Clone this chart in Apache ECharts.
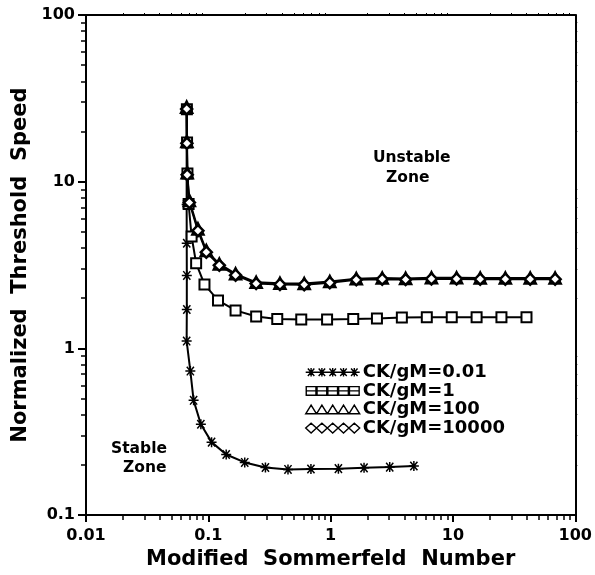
<!DOCTYPE html>
<html>
<head>
<meta charset="utf-8">
<script src="https://cdn.jsdelivr.net/npm/echarts@6/dist/echarts.min.js"></script>
<style>html,body{margin:0;padding:0;background:#fff}#c{width:595px;height:575px}</style>
</head>
<body>
<div id="c"></div>
<script>
// ---- data ----
const xTickValues = [0.01, 0.1, 1, 10, 100];
const xTickLabels = ['0.01', '0.1', '1', '10', '100'];
const yTickValues = [0.1, 1, 10, 100];
const yTickLabels = ['0.1', '1', '10', '100'];
const seriesNames = ['CK/gM=0.01', 'CK/gM=1', 'CK/gM=100', 'CK/gM=10000'];

const starX = [0.0665, 0.0665, 0.0665, 0.0665, 0.0666, 0.0667, 0.0667, 0.0665, 0.0713, 0.0758, 0.0869, 0.1063, 0.140, 0.1985, 0.293, 0.448, 0.690, 1.157, 1.875, 3.04, 4.79];
const starY = [27.5, 17.3, 11.2, 7.3, 4.27, 2.74, 1.71, 1.106, 0.731, 0.488, 0.351, 0.274, 0.231, 0.207, 0.193, 0.188, 0.189, 0.190, 0.192, 0.194, 0.197];

const sqX = [0.0668, 0.0670, 0.0675, 0.069, 0.073, 0.0795, 0.093, 0.12, 0.167, 0.246, 0.366, 0.575, 0.935, 1.53, 2.39, 3.82, 6.11, 9.77, 15.6, 24.9, 39.9];
const sqY = [27.2, 17.2, 11.2, 7.35, 4.69, 3.24, 2.42, 1.94, 1.69, 1.555, 1.50, 1.49, 1.49, 1.50, 1.51, 1.53, 1.54, 1.54, 1.54, 1.54, 1.54];

const triX = [0.0665, 0.0668, 0.0672, 0.070, 0.0822, 0.0963, 0.123, 0.167, 0.246, 0.385, 0.608, 0.984, 1.62, 2.64, 4.10, 6.67, 10.7, 16.7, 26.8, 42.8, 68.4];
const triY = [28, 17.4, 11.3, 7.7, 5.21, 3.86, 3.21, 2.80, 2.49, 2.46, 2.45, 2.52, 2.62, 2.64, 2.63, 2.65, 2.65, 2.64, 2.64, 2.64, 2.64];

const diaX = [0.0665, 0.0668, 0.0672, 0.070, 0.0822, 0.0963, 0.123, 0.167, 0.246, 0.385, 0.608, 0.984, 1.62, 2.64, 4.10, 6.67, 10.7, 16.7, 26.8, 42.8, 68.4];
const diaY = [27.3, 17.0, 11.0, 7.5, 5.08, 3.78, 3.15, 2.75, 2.45, 2.42, 2.41, 2.48, 2.58, 2.60, 2.59, 2.61, 2.61, 2.60, 2.60, 2.60, 2.60];

// ---- helpers ----
function pairs(xs, ys) { return xs.map((x, i) => [x, ys[i]]); }
function minors(lo, hi) {
  const out = [];
  for (let e = lo; e < hi; e++) {
    for (let k = 2; k <= 9; k++) out.push(+(k * Math.pow(10, e)).toPrecision(3));
  }
  return out;
}
function lab(vals, labels) {
  return function (v) {
    let best = 0, bd = Infinity;
    vals.forEach((t, i) => { const d = Math.abs(Math.log10(v) - Math.log10(t)); if (d < bd) { bd = d; best = i; } });
    return labels[best];
  };
}

const FONT = 'DejaVu Sans';

// legend icon paths (box 100 x 18)
function starIcon() {
  let p = 'M0,9L100,9';
  for (let i = 0; i < 5; i++) {
    const c = 10 + 20 * i;
    p += `M${c - 8},9L${c + 8},9M${c - 6},2L${c + 6},16M${c - 6},16L${c + 6},2M${c},1L${c},17`;
  }
  return 'path://' + p;
}
function sqIcon() {
  let p = 'M0,9L100,9';
  for (let i = 0; i < 5; i++) {
    const c = 10 + 20 * i;
    p += `M${c - 9},1L${c + 9},1L${c + 9},17L${c - 9},17Z`;
  }
  return 'path://' + p;
}
function triIcon() {
  let p = 'M0,17L100,17';
  for (let i = 0; i < 5; i++) {
    const c = 10 + 20 * i;
    p += `M${c - 10},17L${c},1L${c + 10},17Z`;
  }
  return 'path://' + p;
}
function diaIcon() {
  let p = '';
  for (let i = 0; i < 5; i++) {
    const c = 10 + 20 * i;
    p += `M${c - 10},9L${c},0L${c + 10},9L${c},18Z`;
  }
  return 'path://' + p;
}

const starSymbol = 'path://M-7,0L7,0M-5,-6L5,6M-5,6L5,-6M0,-7L0,7';

const black = '#000';
const axisCommon = {
  type: 'log', logBase: 10,
  splitLine: { show: false },
  minorTick: { show: false }
};

const option = {
  backgroundColor: '#fff',
  animation: false,
  grid: { left: 86, right: 18, top: 15, bottom: 59, containLabel: false },
  xAxis: [
    Object.assign({}, axisCommon, {
      min: 0.01, max: 100, position: 'bottom',
      axisLine: { show: true, lineStyle: { color: black, width: 2 } },
      axisTick: { show: true, length: 7, lineStyle: { color: black, width: 2 }, customValues: xTickValues },
      axisLabel: { color: black, fontSize: 16, fontWeight: 'bold', fontFamily: FONT, margin: 13, customValues: xTickValues, formatter: lab(xTickValues, xTickLabels) },
      name: 'Modified  Sommerfeld  Number', nameLocation: 'middle', nameGap: 27,
      nameTextStyle: { color: black, fontSize: 21, fontWeight: 'bold', fontFamily: FONT }
    }),
    Object.assign({}, axisCommon, {
      min: 0.01, max: 100, position: 'bottom',
      axisLine: { show: false },
      axisTick: { show: true, length: 5, lineStyle: { color: black, width: 1.5 }, customValues: minors(-2, 2) },
      axisLabel: { show: false }
    }),
    Object.assign({}, axisCommon, {
      min: 0.01, max: 100, position: 'top',
      axisLine: { show: true, lineStyle: { color: black, width: 2 } },
      axisTick: { show: true, length: 2, lineStyle: { color: black, width: 1 }, customValues: minors(-2, 2) },
      axisLabel: { show: false }
    })
  ],
  yAxis: [
    Object.assign({}, axisCommon, {
      min: 0.1, max: 100, position: 'left',
      axisLine: { show: true, lineStyle: { color: black, width: 2 } },
      axisTick: { show: true, length: 8, lineStyle: { color: black, width: 2 }, customValues: yTickValues },
      axisLabel: { color: black, fontSize: 16, fontWeight: 'bold', fontFamily: FONT, margin: 11, customValues: yTickValues, formatter: lab(yTickValues, yTickLabels) },
      name: 'Normalized  Threshold  Speed', nameLocation: 'middle', nameGap: 52, nameRotate: 90,
      nameTextStyle: { color: black, fontSize: 21, fontWeight: 'bold', fontFamily: FONT }
    }),
    Object.assign({}, axisCommon, {
      min: 0.1, max: 100, position: 'left',
      axisLine: { show: false },
      axisTick: { show: true, length: 5, lineStyle: { color: black, width: 1.5 }, customValues: minors(-1, 2) },
      axisLabel: { show: false }
    }),
    Object.assign({}, axisCommon, {
      min: 0.1, max: 100, position: 'right',
      axisLine: { show: true, lineStyle: { color: black, width: 2 } },
      axisTick: { show: true, length: 2, lineStyle: { color: black, width: 1 }, customValues: minors(-1, 2) },
      axisLabel: { show: false }
    })
  ],
  legend: {
    orient: 'vertical', left: 300, top: 358,
    itemWidth: 54, itemHeight: 10, itemGap: 0,
    textStyle: { color: black, fontSize: 18, fontWeight: 'bold', fontFamily: FONT, lineHeight: 18.6, padding: [0, 0, 0, -2] },
    data: [
      { name: seriesNames[0], icon: starIcon(), itemStyle: { color: black, borderColor: black, borderWidth: 1.4 } },
      { name: seriesNames[1], icon: sqIcon(), itemStyle: { color: '#fff', borderColor: black, borderWidth: 1.4 } },
      { name: seriesNames[2], icon: triIcon(), itemStyle: { color: '#fff', borderColor: black, borderWidth: 1.4 } },
      { name: seriesNames[3], icon: diaIcon(), itemStyle: { color: '#fff', borderColor: black, borderWidth: 1.4 } }
    ]
  },
  graphic: [
    { type: 'text', left: 373, top: 150, style: { text: 'Unstable', font: 'bold 15.5px "DejaVu Sans"', fill: black } },
    { type: 'text', left: 386, top: 170, style: { text: 'Zone', font: 'bold 15.5px "DejaVu Sans"', fill: black } },
    { type: 'text', left: 111, top: 441, style: { text: 'Stable', font: 'bold 15.5px "DejaVu Sans"', fill: black } },
    { type: 'text', left: 123, top: 460, style: { text: 'Zone', font: 'bold 15.5px "DejaVu Sans"', fill: black } }
  ],
  series: [
    {
      name: seriesNames[0], type: 'line', xAxisIndex: 0, yAxisIndex: 0,
      data: pairs(starX, starY), symbol: starSymbol, symbolSize: 10,
      lineStyle: { color: black, width: 2 },
      itemStyle: { color: black, borderColor: black, borderWidth: 1.5 }, z: 3
    },
    {
      name: seriesNames[1], type: 'line', xAxisIndex: 0, yAxisIndex: 0,
      data: pairs(sqX, sqY), symbol: 'rect', symbolSize: 10,
      lineStyle: { color: black, width: 2 },
      itemStyle: { color: '#fff', borderColor: black, borderWidth: 2 }, z: 4
    },
    {
      name: seriesNames[2], type: 'line', xAxisIndex: 0, yAxisIndex: 0,
      data: pairs(triX, triY), symbol: 'triangle', symbolSize: 11,
      lineStyle: { color: black, width: 2 },
      itemStyle: { color: '#fff', borderColor: black, borderWidth: 2.5 }, z: 5
    },
    {
      name: seriesNames[3], type: 'line', xAxisIndex: 0, yAxisIndex: 0,
      data: pairs(diaX, diaY), symbol: 'diamond', symbolSize: 11,
      lineStyle: { color: black, width: 2 },
      itemStyle: { color: '#fff', borderColor: black, borderWidth: 2.5 }, z: 6
    }
  ]
};

const chart = echarts.init(document.getElementById('c'), null, { renderer: 'canvas' });
chart.setOption(option);
</script>
</body>
</html>
